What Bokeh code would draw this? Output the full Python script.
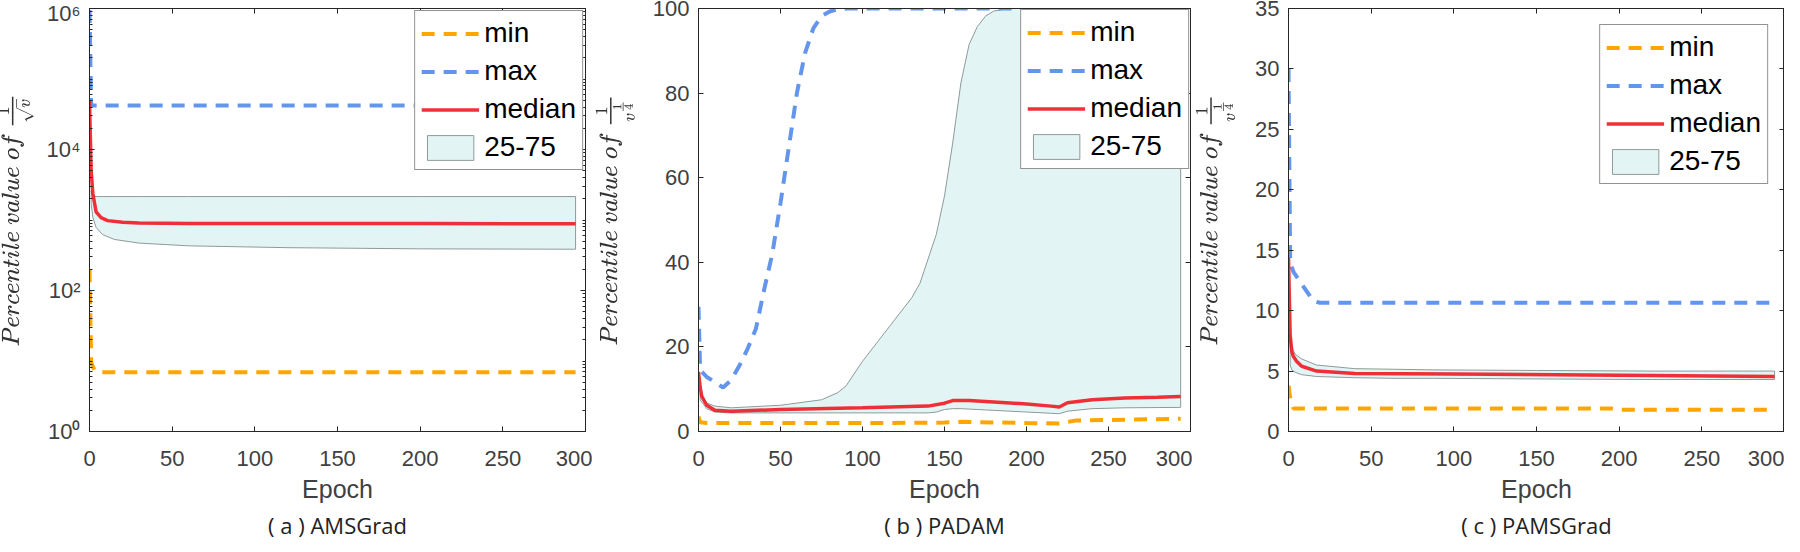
from bokeh.plotting import figure
from bokeh.models import Range1d, LinearAxis, LogAxis, FixedTicker, Legend, LegendItem, Title, TeX
from bokeh.layouts import row
from bokeh.embed import file_html
from bokeh.resources import INLINE

# ---------------- data ----------------
x_ticks = [0, 50, 100, 150, 200, 250, 300]

# (a) AMSGrad  -- log scale
a_min_ep = [0, 1, 3, 5, 294]
a_min = [200, 9.5, 7.5, 6.9, 6.9]
a_max_ep = [0, 1, 294]
a_max = [950000, 42000, 42000]
a_med_ep = [0, 1, 2, 4, 7, 11, 20, 30, 60, 120, 200, 294]
a_med = [49000, 5000, 2400, 1300, 1080, 980, 930, 910, 895, 890, 890, 885]
a_band_ep = [1, 2, 4, 8, 15, 30, 60, 120, 200, 294]
a_band_hi = [2600, 2200, 2150, 2150, 2150, 2150, 2150, 2150, 2150, 2150]
a_band_lo = [1700, 1100, 780, 620, 530, 470, 430, 405, 390, 385]
a_yticks = [1, 100, 10000, 1000000]
a_ylabels = {1: "10⁰", 100: "10²", 10000: "10⁴", 1000000: "10⁶"}

# (b) PADAM
b_min_ep = [0, 1, 5, 50, 100, 150, 160, 200, 220, 230, 260, 294]
b_min = [3.5, 2.2, 2.0, 2.0, 2.0, 2.1, 2.3, 2.0, 1.9, 2.6, 2.8, 3.0]
b_max_ep = [0, 1, 5, 10, 15, 20, 25, 30, 35, 40, 45, 50, 55, 60, 65, 70, 75, 80, 85, 90, 100, 294]
b_max = [29.5, 14.5, 12.9, 11.7, 10.4, 12.2, 15.6, 19.6, 24.3, 33.5, 42.0, 54.0, 67.0, 80.0,
         89.5, 95.3, 98.2, 99.3, 99.8, 100, 100, 100]
b_med_ep = [0, 1, 2, 5, 10, 20, 50, 100, 140, 150, 155, 165, 180, 200, 215, 220, 225, 240, 260, 280, 294]
b_med = [14.1, 10.5, 8.3, 6.2, 5.0, 4.8, 5.2, 5.6, 6.0, 6.7, 7.3, 7.3, 7.0, 6.5, 6.0, 5.8, 6.8, 7.5, 7.9, 8.1, 8.3]
b_band_ep = [1, 5, 10, 20, 50, 75, 85, 90, 100, 110, 120, 130, 135, 140, 145, 150, 155, 160,
             165, 170, 175, 180, 190, 200, 215, 220, 225, 240, 260, 294]
b_band_hi = [9.0, 6.7, 6.0, 5.6, 6.2, 7.5, 9.2, 10.8, 16.6, 21.6, 26.6, 31.6, 35.0, 40.8, 46.6,
             55.7, 68.2, 82.4, 91.5, 95.7, 98.2, 99.4, 100, 100, 100, 100, 100, 100, 100, 100]
b_band_lo = [7.5, 5.4, 4.6, 4.4, 4.4, 4.4, 4.4, 4.4, 4.4, 4.4, 4.4, 4.4, 4.4, 4.4, 4.6, 5.2,
             5.4, 5.4, 5.3, 5.2, 5.1, 5.0, 4.8, 4.6, 4.3, 4.2, 4.8, 5.4, 5.6, 5.7]
b_yticks = [0, 20, 40, 60, 80, 100]

# (c) PAMSGrad
c_min_ep = [0, 1, 3, 195, 200, 294]
c_min = [3.8, 2.8, 1.9, 1.9, 1.8, 1.8]
c_max_ep = [0, 1, 3, 15, 19, 294]
c_max = [30.0, 14.0, 13.2, 10.8, 10.65, 10.65]
c_med_ep = [0, 1, 2, 3, 5, 8, 17, 40, 100, 200, 294]
c_med = [14.4, 8.0, 6.6, 6.2, 5.8, 5.4, 5.0, 4.8, 4.75, 4.65, 4.55]
c_band_ep = [1, 2, 4, 8, 17, 40, 64, 87, 150, 220, 294]
c_band_hi = [8.0, 7.0, 6.4, 6.0, 5.5, 5.2, 5.15, 5.1, 5.05, 5.0, 5.0]
c_band_lo = [5.5, 5.1, 4.9, 4.7, 4.55, 4.45, 4.4, 4.4, 4.35, 4.3, 4.3]
c_yticks = [0, 5, 10, 15, 20, 25, 30, 35]

legend_labels = ["min", "max", "median", "25-75"]
captions = ["( a ) AMSGrad", "( b ) PADAM", "( c ) PAMSGrad"]
x_label = "Epoch"

# ---------------- styling ----------------
ORANGE = "#FFA500"
BLUE = "#6495ED"
RED = "#F01A22"
BAND = "#E3F4F4"
BANDLINE = "#8E9A9A"
AX = "#262626"
TICKLBL = "#404040"
FONT = "Liberation Sans"
FIG_H = 544


def style_axis(ax, ticks, minor=None, labels=True, overrides=None, hidden_size="22px"):
    ax.ticker = FixedTicker(ticks=ticks, minor_ticks=minor or [])
    ax.axis_line_color = AX
    ax.axis_line_width = 1
    ax.major_tick_in = 5
    ax.major_tick_out = 0
    ax.major_tick_line_color = AX
    ax.minor_tick_in = 3
    ax.minor_tick_out = 0
    ax.minor_tick_line_color = AX if minor else None
    ax.major_label_text_font = FONT
    ax.major_label_text_color = TICKLBL
    if labels:
        ax.major_label_text_font_size = "22px"
        ax.major_label_standoff = 9
        if overrides:
            ax.major_label_overrides = overrides
    else:
        ax.major_label_text_font_size = hidden_size
        ax.major_label_standoff = 0
        ax.major_label_overrides = {t: "" for t in ticks}


def make_panel(width, left, right, log, yrange, yticks, yminor, ylabel, lab_standoff, caption,
               lmargin, mn, mx, md, band, overrides=None):
    p = figure(width=width, height=FIG_H, x_range=Range1d(0, 300), y_range=yrange,
               y_axis_type="log" if log else "linear",
               output_backend="svg", toolbar_location=None,
               min_border_left=left, min_border_right=right,
               min_border_top=8, min_border_bottom=FIG_H - 8 - 423,
               background_fill_color="white", border_fill_color="white")
    p.outline_line_color = AX
    p.outline_line_width = 1
    p.xgrid.visible = False
    p.ygrid.visible = False

    style_axis(p.xaxis[0], x_ticks)
    p.xaxis[0].major_label_standoff = 19
    p.xaxis[0].axis_label = x_label
    p.xaxis[0].axis_label_text_font = FONT
    p.xaxis[0].axis_label_text_font_size = "25px"
    p.xaxis[0].axis_label_text_font_style = "normal"
    p.xaxis[0].axis_label_text_color = TICKLBL
    p.xaxis[0].axis_label_standoff = 6

    style_axis(p.yaxis[0], yticks, yminor, overrides=overrides)
    p.yaxis[0].axis_label = TeX(text=ylabel, inline=True)
    p.yaxis[0].axis_label_text_font_size = "21px"
    p.yaxis[0].axis_label_text_color = "#333333"
    p.yaxis[0].axis_label_standoff = lab_standoff

    top = LinearAxis()
    style_axis(top, x_ticks, labels=False, hidden_size="6px")
    p.add_layout(top, "above")
    rgt = LogAxis() if log else LinearAxis()
    style_axis(rgt, yticks, yminor, labels=False)
    p.add_layout(rgt, "right")

    bx, bhi, blo = band
    xs = list(bx) + list(bx[::-1])
    ys = list(bhi) + list(blo[::-1])
    r_band = p.patch(xs, ys, fill_color=BAND, line_color=BANDLINE, line_width=1)
    r_min = p.line(mn[0], mn[1], line_color=ORANGE, line_width=4, line_dash="13 9")
    r_max = p.line(mx[0], mx[1], line_color=BLUE, line_width=4, line_dash="13 9")
    r_med = p.line(md[0], md[1], line_color=RED, line_width=3.5, line_alpha=0.9)

    leg = Legend(items=[LegendItem(label=legend_labels[0], renderers=[r_min]),
                        LegendItem(label=legend_labels[1], renderers=[r_max]),
                        LegendItem(label=legend_labels[2], renderers=[r_med]),
                        LegendItem(label=legend_labels[3], renderers=[r_band])],
                 location="top_right", margin=lmargin, padding=6, spacing=6,
                 glyph_width=58, glyph_height=31, label_height=31, label_standoff=5,
                 label_text_font=FONT, label_text_font_size="28px", label_text_color="black",
                 border_line_color=AX, border_line_width=1,
                 background_fill_color="white", background_fill_alpha=1)
    p.add_layout(leg)

    p.add_layout(Title(text=caption, align="center", text_font="Open Sans",
                       text_font_size="22px", text_font_style="normal",
                       text_color="#222222", standoff=4), "below")
    return p


log_minor = [m * 10 ** k for k in range(0, 6) for m in range(1, 10) if not (m == 1 and k % 2 == 0)]

pa = make_panel(598, 87, 7, True, Range1d(1, 1e6), a_yticks, log_minor,
                r"Percentile\ value\ of\ \frac{1}{\sqrt{v}}", 10, captions[0], 2,
                (a_min_ep, a_min), (a_max_ep, a_max), (a_med_ep, a_med),
                (a_band_ep, a_band_hi, a_band_lo), overrides=a_ylabels)
pb = make_panel(600, 97, 2, False, Range1d(0, 100), b_yticks, None,
                r"Percentile\ value\ of\ \frac{1}{v^{\frac{1}{4}}}", 15, captions[1], 1,
                (b_min_ep, b_min), (b_max_ep, b_max), (b_med_ep, b_med),
                (b_band_ep, b_band_hi, b_band_lo))
pc = make_panel(592, 87, 0, False, Range1d(0, 35), c_yticks, None,
                r"Percentile\ value\ of\ \frac{1}{v^{\frac{1}{4}}}", 17, captions[2], 16,
                (c_min_ep, c_min), (c_max_ep, c_max), (c_med_ep, c_med),
                (c_band_ep, c_band_hi, c_band_lo))

layout = row(pa, pb, pc, styles={"margin-bottom": "-8px", "margin-left": "-6px"})
open("out.html", "w").write(file_html(layout, INLINE))
